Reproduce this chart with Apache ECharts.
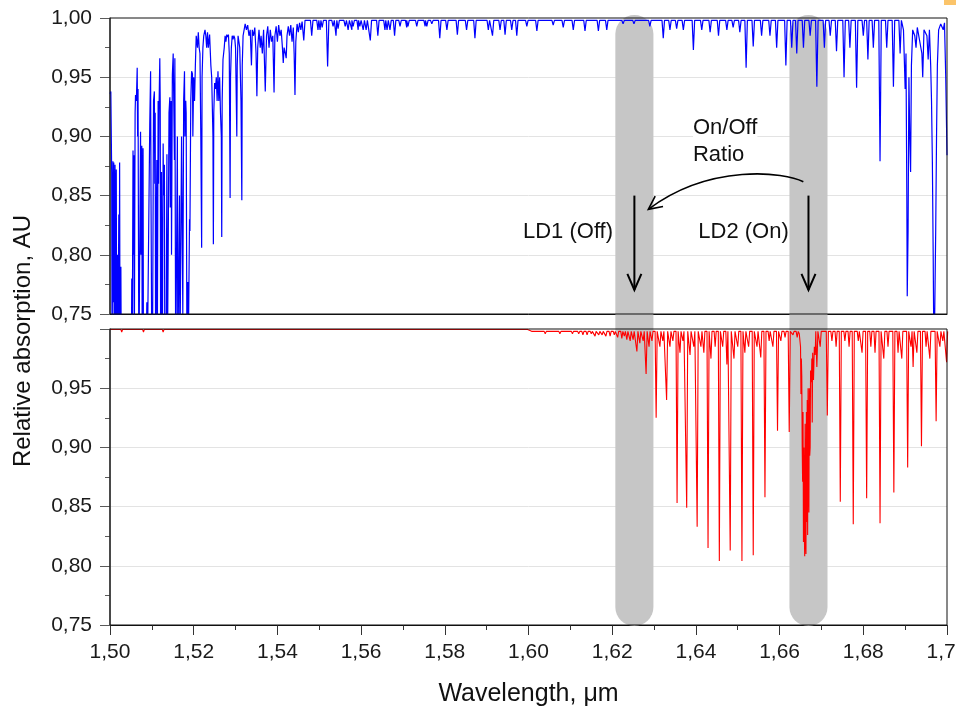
<!DOCTYPE html>
<html><head><meta charset="utf-8">
<script src="https://cdn.jsdelivr.net/npm/echarts@6/dist/echarts.min.js"></script>
<style>html,body{margin:0;padding:0;background:#fff}#chart{width:956px;height:711px}</style>
</head><body><div id="chart"></div>
<script>
// ---------------- DATA ----------------
const xTickValues = [1.50,1.52,1.54,1.56,1.58,1.60,1.62,1.64,1.66,1.68,1.70];
const xTickLabels = ['1,50','1,52','1,54','1,56','1,58','1,60','1,62','1,64','1,66','1,68','1,70'];
const yTickValues = [0.75,0.80,0.85,0.90,0.95,1.00];
const yTickLabels = ['0,75','0,80','0,85','0,90','0,95','1,00'];

// blue spectrum, dense part: explicit vertices [wavelength, relative absorption]
const blueDense = [
[1.5000,0.936],[1.5002,0.938],[1.5004,0.87],[1.5005,0.70],[1.5007,0.879],[1.5008,0.76],[1.5009,0.878],[1.5010,0.70],[1.5012,0.876],[1.5013,0.72],[1.5015,0.872],[1.5016,0.70],[1.5018,0.80],[1.5019,0.70],[1.5021,0.834],[1.5022,0.70],[1.5023,0.878],[1.5024,0.70],[1.5026,0.79],[1.5027,0.70],
[1.5051,0.70],[1.5052,0.78],[1.5053,0.70],[1.5055,0.888],[1.5056,0.80],[1.5057,0.884],[1.5058,0.70],[1.5060,0.92],[1.5061,0.935],[1.5063,0.93],[1.5065,0.958],[1.5066,0.90],[1.5067,0.94],[1.5069,0.70],[1.5071,0.80],[1.5073,0.904],[1.5074,0.80],[1.5076,0.892],[1.5077,0.70],[1.5079,0.89],[1.5080,0.70],
[1.5086,0.70],[1.5088,0.76],[1.5089,0.70],[1.5093,0.70],[1.5095,0.91],[1.5097,0.955],[1.5098,0.85],[1.5100,0.70],[1.5102,0.75],[1.5104,0.93],[1.5106,0.938],[1.5107,0.86],[1.5108,0.92],[1.5109,0.70],[1.5111,0.84],[1.5112,0.88],[1.5113,0.70],[1.5115,0.93],[1.5116,0.86],[1.5117,0.92],[1.5119,0.966],[1.5120,0.93],[1.5121,0.70],[1.5123,0.87],[1.5125,0.70],[1.5127,0.894],[1.5128,0.85],[1.5130,0.876],[1.5131,0.70],[1.5133,0.75],[1.5134,0.70],[1.5136,0.885],[1.5137,0.70],[1.5139,0.80],[1.5141,0.92],[1.5143,0.933],[1.5144,0.84],[1.5146,0.93],[1.5147,0.80],[1.5149,0.952],[1.5151,0.97],[1.5153,0.971],[1.5154,0.88],[1.5155,0.966],[1.5157,0.70],[1.5159,0.80],[1.5161,0.90],[1.5162,0.70],[1.5164,0.78],[1.5166,0.85],[1.5167,0.70],[1.5169,0.80],[1.5171,0.90],[1.5173,0.901],[1.5174,0.75],[1.5176,0.93],[1.5178,0.955],[1.5179,0.90],[1.5181,0.93],[1.5182,0.92],[1.5184,0.70],[1.5186,0.777],[1.5188,0.75],[1.5190,0.83],[1.5191,0.82],[1.5193,0.93],[1.5195,0.955],[1.5197,0.953],[1.5198,0.90],[1.5200,0.950],[1.5202,0.93],[1.5204,0.96],[1.5206,0.985],[1.5207,0.986],[1.5209,0.975],[1.5211,0.988],[1.5213,0.975],[1.5215,0.97],[1.5217,0.90],[1.5219,0.806],[1.5220,0.95],[1.5222,0.975],[1.5224,0.985],[1.5227,0.99],[1.5229,0.985],[1.5231,0.975],[1.5233,0.988],[1.5235,0.975],[1.5238,0.986],[1.5241,0.96],[1.5243,0.95],[1.5246,0.90],[1.5247,0.809],[1.5248,0.92],[1.5250,0.945],[1.5252,0.94],[1.5254,0.95],[1.5256,0.93],[1.5258,0.955],[1.5260,0.93],[1.5262,0.95],[1.5264,0.92],[1.5266,0.90],[1.5267,0.815],[1.5268,0.93],[1.5270,0.965],[1.5273,0.975],[1.5275,0.985],[1.5277,0.98],[1.5279,0.986],[1.5281,0.984],[1.5283,0.986],[1.5285,0.97],[1.5287,0.848],[1.5288,0.95],[1.5290,0.975],[1.5292,0.985],[1.5294,0.982],[1.5296,0.985],[1.5298,0.983],[1.5300,0.975],[1.5303,0.900],[1.5304,0.96],[1.5306,0.985],[1.5308,0.98],[1.5310,0.975],[1.5313,0.93],[1.5315,0.846],[1.5316,0.96],[1.5318,0.985],[1.5321,0.991],[1.5323,0.995],[1.5326,0.99],[1.5329,0.994],[1.5332,0.985],[1.5335,0.99],[1.5338,0.96],[1.5340,0.99],[1.5343,0.985],[1.5346,0.992],[1.5349,0.97],[1.5351,0.934],[1.5353,0.975],[1.5356,0.99],[1.5359,0.975],[1.5361,0.985],[1.5364,0.97],[1.5367,0.99],[1.5371,0.938],[1.5374,0.985],[1.5377,0.993],[1.5380,0.975],[1.5383,0.99],[1.5386,0.98],[1.5389,0.985],[1.5392,0.937],[1.5394,0.985],[1.5397,0.993],[1.5400,0.98],[1.5403,0.994],[1.5406,0.985],[1.5409,0.99],[1.5412,0.975],[1.5414,0.962],[1.5416,0.975],[1.5419,0.97],[1.5421,0.966],[1.5423,0.985],[1.5426,0.993],[1.5429,0.985],[1.5432,0.994],[1.5435,0.98],[1.5438,0.992],[1.5440,0.97],[1.5442,0.935],[1.5444,0.98],[1.5447,0.995],[1.5450,0.988],[1.5453,0.996],[1.5456,0.99],[1.5459,0.997]
];
// blue spectrum, isolated lines: centre wavelength and minimum
const blueLineWl  = [1.5463,1.5482,1.5497,1.5502,1.5507,1.5520,1.5533,1.5540,1.5545,1.5562,1.5569,1.5578,1.5581,1.5593,1.5597,1.5605,1.5612,1.5622,1.5640,1.5657,1.5662,1.5669,1.5680,1.5693,1.5709,1.5712,1.5733,1.5753,1.5757,1.5769,1.5788,1.5805,1.5830,1.5852,1.5872,1.5904,1.5914,1.5932,1.5944,1.5960,1.5972,1.5996,1.6020,1.6059,1.6083,1.6107,1.6135,1.6167,1.6187,1.6226,1.6252,1.6290,1.6322,1.6338,1.6354,1.6370,1.6394,1.6414,1.6434,1.6454,1.6474,1.6489,1.6505,1.6520,1.6537,1.6557,1.6577,1.6593,1.6615,1.6629,1.6641,1.6657,1.6673,1.6689,1.6707,1.6721,1.6736,1.6754,1.6768,1.6784,1.6800,1.6811,1.6824,1.6840,1.6856,1.6872,1.6888];
const blueLineMin = [0.981,0.985,0.990,0.990,0.992,0.959,0.993,0.985,0.991,0.993,0.990,0.990,0.993,0.990,0.993,0.990,0.990,0.981,0.985,0.990,0.990,0.990,0.985,0.993,0.992,0.993,0.993,0.993,0.993,0.995,0.983,0.990,0.986,0.990,0.983,0.990,0.985,0.990,0.986,0.990,0.985,0.993,0.989,0.994,0.992,0.990,0.989,0.989,0.990,0.995,0.995,0.993,0.983,0.990,0.991,0.990,0.973,0.990,0.988,0.985,0.990,0.992,0.988,0.958,0.976,0.985,0.985,0.975,0.960,0.975,0.970,0.975,0.985,0.942,0.975,0.985,0.972,0.950,0.975,0.941,0.985,0.965,0.975,0.879,0.975,0.942,0.970];
const blueBaseline = 0.998;
// blue spectrum near the right edge: explicit vertices
const blueEdge = [
[1.6896,0.99],[1.6900,0.94],[1.6902,0.97],[1.6904,0.85],[1.6905,0.765],[1.6907,0.82],[1.6909,0.95],[1.6911,0.90],[1.6913,0.87],[1.6915,0.96],[1.6918,0.99],[1.6923,0.985],[1.6926,0.975],[1.6929,0.992],[1.6940,0.97],[1.6942,0.950],[1.6945,0.99],[1.6952,0.985],[1.6955,0.965],[1.6958,0.99],[1.6961,0.96],[1.6963,0.93],[1.6965,0.88],[1.6967,0.80],[1.6969,0.70],[1.6971,0.70],[1.6973,0.82],[1.6975,0.90],[1.6977,0.96],[1.6980,0.99],[1.6985,0.995],[1.6991,0.99],[1.6994,0.996],[1.6997,0.95],[1.7000,0.884]
];

// red spectrum: flat start (explicit vertices)
const redStart = [[1.5000,0.9996],[1.5026,0.9996],[1.5028,0.9975],[1.5030,0.9996],[1.5078,0.9996],[1.5080,0.9975],[1.5082,0.9996],[1.5125,0.9996],[1.5127,0.9975],[1.5129,0.9996],[1.5998,0.9996]];
// red spectrum: isolated lines
const redLineWl  = [1.6010,1.6040,1.6060,1.6075,1.6090,1.6105,1.6120,1.6130,1.6140,1.6150,1.6159,1.6168,1.6176,1.6185,1.6195,1.6205,1.6213,1.6223,1.6229,1.6235,1.6243,1.6250,1.6259,1.6266,1.6274,1.6281,1.6288,1.6295,1.6305,1.6314,1.6321,1.6330,1.6338,1.6345,1.6355,1.6362,1.6369,1.6378,1.6386,1.6395,1.6403,1.6412,1.6419,1.6429,1.6436,1.6446,1.6456,1.6464,1.6474,1.6482,1.6491,1.6500,1.6510,1.6517,1.6526,1.6537,1.6546,1.6555,1.6565,1.6575,1.6584,1.6595,1.6603,1.6613,1.6623,1.6632,1.6642,1.6689,1.6697,1.6714,1.6725,1.6735,1.6745,1.6756,1.6766,1.6776,1.6788,1.6797,1.6808,1.6818,1.6828,1.6840,1.6849,1.6859,1.6873,1.6883,1.6892,1.6906,1.6914,1.6919,1.6928,1.6939,1.6950,1.6959,1.6974,1.6983,1.6990,1.6999];
const redLineMin = [0.997,0.996,0.997,0.996,0.997,0.996,0.996,0.995,0.995,0.996,0.994,0.995,0.995,0.994,0.994,0.995,0.993,0.992,0.994,0.991,0.990,0.991,0.981,0.988,0.990,0.962,0.985,0.990,0.925,0.985,0.990,0.940,0.985,0.990,0.853,0.980,0.990,0.849,0.978,0.985,0.833,0.985,0.980,0.815,0.975,0.985,0.804,0.985,0.970,0.813,0.975,0.985,0.804,0.980,0.985,0.809,0.985,0.976,0.858,0.990,0.985,0.914,0.990,0.993,0.913,0.995,0.993,0.968,0.985,0.927,0.990,0.985,0.854,0.990,0.985,0.835,0.990,0.980,0.857,0.985,0.980,0.836,0.975,0.985,0.862,0.980,0.975,0.883,0.985,0.968,0.980,0.901,0.985,0.975,0.922,0.985,0.990,0.972];
const redBaseline = 0.998;
// red spectrum: Q-branch band (explicit vertices)
const redQBranch = [
[1.6647,0.996],[1.6650,0.985],[1.6651,0.945],[1.6652,0.975],[1.6653,0.96],[1.6654,0.90],[1.6655,0.871],[1.6656,0.93],[1.6657,0.820],[1.6658,0.90],[1.6659,0.83],[1.6660,0.808],[1.6661,0.92],[1.6662,0.825],[1.6663,0.81],[1.6664,0.93],[1.6665,0.837],[1.6666,0.94],[1.6667,0.826],[1.6668,0.95],[1.6669,0.886],[1.6670,0.845],[1.6671,0.95],[1.6672,0.893],[1.6673,0.90],[1.6674,0.965],[1.6675,0.964],[1.6676,0.955],[1.6677,0.975],[1.6678,0.921],[1.6679,0.98],[1.6681,0.957],[1.6683,0.985],[1.6685,0.978],[1.6687,0.99]
];

// laser diode wavelengths (grey bands)
const ldWl = [1.6253, 1.6669];
const ldLabels = ['LD1 (Off)', 'LD2 (On)'];
const ratioLabel = 'On/Off\nRatio';
const yTitle = 'Relative absorption, AU';
const xTitle = 'Wavelength, \u03bcm';

// ---------------- BUILD ----------------
function lineVerts(wl, mins, base, w) {
  const out = [];
  for (let i = 0; i < wl.length; i++) {
    out.push([wl[i] - w, base], [wl[i], mins[i]], [wl[i] + w, base]);
  }
  return out;
}
const blueData = blueDense.concat(lineVerts(blueLineWl, blueLineMin, blueBaseline, 0.0003), blueEdge).sort((a,b)=>a[0]-b[0]);
const redData = redStart.concat(lineVerts(redLineWl, redLineMin, redBaseline, 0.00025), redQBranch).sort((a,b)=>a[0]-b[0]);

const FONT = "'Liberation Sans', Arial, sans-serif";
function lab(values, labels) {
  return v => { for (let i=0;i<values.length;i++) if (Math.abs(values[i]-v) < 1e-6) return labels[i]; return ''; };
}
const yLab = lab(yTickValues, yTickLabels);
const yLabBottom = v => (Math.abs(v-1) < 1e-6 ? '' : yLab(v));

function yAxisDef(gi, fmt) {
  return {
    type:'value', gridIndex:gi, min:0.75, max:1.0, interval:0.05, z:0,
    axisLine:{show:true, onZero:false, lineStyle:{color:'#5a5a5a', width:1.5}},
    axisTick:{show:true, length:10, lineStyle:{color:'#5a5a5a', width:1}},
    minorTick:{show:true, splitNumber:2, length:5, lineStyle:{color:'#5a5a5a', width:1}},
    splitLine:{show:true, showMinLine:false, showMaxLine:false, lineStyle:{color:'#e3e3e3', width:1}},
    minorSplitLine:{show:false},
    axisLabel:{show:true, margin:18, color:'#1a1a1a', fontSize:21, fontFamily:FONT, formatter:fmt, showMinLabel:true, showMaxLabel:true}
  };
}

const gridCommon = {left:110, right:9, height:296, show:true, borderColor:'#111', borderWidth:1, backgroundColor:'transparent', z:3, containLabel:false, outerBoundsMode:'none'};
const option = {
  animation:false,
  backgroundColor:'#ffffff',
  grid:[
    Object.assign({top:18}, gridCommon),
    Object.assign({top:329}, gridCommon)
  ],
  xAxis:[
    {type:'value', gridIndex:0, min:1.5, max:1.7, interval:0.02, axisLine:{show:true, onZero:false, lineStyle:{color:'#111'}}, axisTick:{show:false}, axisLabel:{show:false}, splitLine:{show:false}},
    {type:'value', gridIndex:1, min:1.5, max:1.7, interval:0.02, axisLine:{show:true, onZero:false, lineStyle:{color:'#111'}},
     axisTick:{show:true, length:10, lineStyle:{color:'#333'}},
     minorTick:{show:true, splitNumber:2, length:5, lineStyle:{color:'#333'}},
     splitLine:{show:false},
     axisLabel:{show:true, margin:17, color:'#1a1a1a', fontSize:21, fontFamily:FONT, formatter:lab(xTickValues, xTickLabels), showMinLabel:true, showMaxLabel:true}}
  ],
  yAxis:[ yAxisDef(0, yLab), yAxisDef(1, yLabBottom) ],
  series:[
    {type:'line', xAxisIndex:0, yAxisIndex:0, data:blueData, showSymbol:false, symbol:'none', sampling:'none', clip:true, z:2,
     lineStyle:{color:'#0000ff', width:1.2}},
    {type:'line', xAxisIndex:1, yAxisIndex:1, data:redData, showSymbol:false, symbol:'none', sampling:'none', clip:true, z:2,
     lineStyle:{color:'#ff0000', width:1.1}}
  ]
};

const chart = echarts.init(document.getElementById('chart'), null, {renderer:'canvas'});
chart.setOption(option);

// ---------------- ANNOTATIONS ----------------
function P(g, x, y) { return chart.convertToPixel({gridIndex:g}, [x, y]); }
const g = [];
const bandHalf = 0.00455;
ldWl.forEach(c => {
  const l = P(0, c - bandHalf, 1)[0], r = P(0, c + bandHalf, 1)[0];
  const top = P(0, c, 1.0)[1] - 3;
  const bot = P(1, c, 0.75)[1] + 1;
  g.push({type:'rect', silent:true, z:1, shape:{x:l, y:top, width:r-l, height:bot-top, r:(r-l)/2}, style:{fill:'#c6c6c6'}});
  const a = P(0, c, 0.85), b = P(0, c, 0.7703);
  g.push({type:'line', silent:true, z:5, shape:{x1:a[0], y1:a[1], x2:b[0], y2:b[1]}, style:{stroke:'#000', lineWidth:2}});
  g.push({type:'polyline', silent:true, z:5, shape:{points:[[b[0]-7, b[1]-16],[b[0], b[1]],[b[0]+7, b[1]-16]]}, style:{stroke:'#000', lineWidth:2, fill:null}});
});
// curved arrow LD2 -> LD1
const p0 = P(0, 1.66567, 0.8617), p1 = P(0, 1.66129, 0.8699), p2 = P(0, 1.64337, 0.8775), p3 = P(0, 1.62863, 0.8384);
g.push({type:'bezierCurve', silent:true, z:5, shape:{x1:p0[0], y1:p0[1], cpx1:p1[0], cpy1:p1[1], cpx2:p2[0], cpy2:p2[1], x2:p3[0], y2:p3[1]}, style:{stroke:'#000', lineWidth:1.6, fill:null}});
(function(){
  const dx = p3[0]-p2[0], dy = p3[1]-p2[1], len = Math.hypot(dx,dy);
  const rx = -dx/len, ry = -dy/len, L = 15, ang = 0.45;
  const arm = s => { const c = Math.cos(s*ang), sn = Math.sin(s*ang);
    return [p3[0] + L*(rx*c - ry*sn), p3[1] + L*(rx*sn + ry*c)]; };
  g.push({type:'polyline', silent:true, z:5, shape:{points:[arm(1), p3, arm(-1)]}, style:{stroke:'#000', lineWidth:1.6, fill:null}});
})();
// texts
const t1 = P(0, 1.6202, 0.8193), t2 = P(0, 1.64057, 0.8193), tr = P(0, 1.6393, 0.9185);
g.push({type:'text', silent:true, z:6, x:t1[0], y:t1[1], style:{text:ldLabels[0], font:'22px ' + FONT, fill:'#111', align:'right', verticalAlign:'middle'}});
g.push({type:'text', silent:true, z:6, x:t2[0], y:t2[1], style:{text:ldLabels[1], font:'22px ' + FONT, fill:'#111', align:'left', verticalAlign:'middle'}});
g.push({type:'text', silent:true, z:6, x:tr[0], y:tr[1], style:{text:ratioLabel, font:'22px ' + FONT, lineHeight:27, fill:'#111', align:'left', verticalAlign:'top', backgroundColor:'#fff'}});
// axis titles
const xc = P(1, 1.60, 0.75);
g.push({type:'text', silent:true, z:6, x:xc[0], y:694, style:{text:xTitle, font:'25px ' + FONT, fill:'#111', align:'center', verticalAlign:'middle'}});
g.push({type:'text', silent:true, z:6, x:23, y:341, rotation:Math.PI/2, style:{text:yTitle, font:'24px ' + FONT, fill:'#111', align:'center', verticalAlign:'middle'}});
// small orange mark in the top-right corner of the source image
g.push({type:'rect', silent:true, z:6, shape:{x:944, y:0, width:12, height:5}, style:{fill:'#fbc46a'}});
chart.setOption({graphic:{elements:g}});
</script>
</body></html>
